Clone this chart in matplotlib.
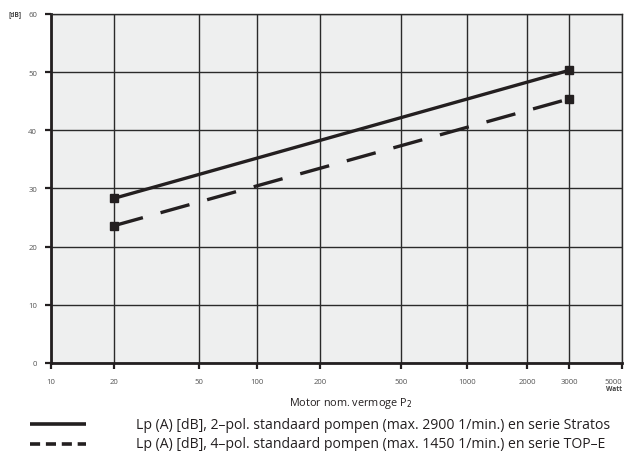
import numpy as np
import matplotlib.pyplot as plt
from matplotlib.lines import Line2D

# ---- data ----
power_w = [20, 3000]
lp_2pol = [28.3, 50.3]
lp_4pol = [23.6, 45.4]

x_ticks = [10, 20, 50, 100, 200, 500, 1000, 2000, 3000, 5000]
x_ticklabels = ["10", "20", "50", "100", "200", "500", "1000", "2000", "3000", "5000"]
y_ticks = [0, 10, 20, 30, 40, 50, 60]

label_2pol = "Lp (A) [dB], 2\u2013pol. standaard pompen (max. 2900 1/min.) en serie Stratos"
label_4pol = "Lp (A) [dB], 4\u2013pol. standaard pompen (max. 1450 1/min.) en serie TOP\u2013E"

# the printed chart is not an exact log axis; tick spacing as drawn (relative units)
tick_spacing = [0, 63, 148, 206, 269, 350, 416, 476, 518, 571]
log_ticks = np.log10(x_ticks)


def fwd(x):
    x = np.clip(np.asarray(x, dtype=float), 1e-3, None)
    return np.interp(np.log10(x), log_ticks, tick_spacing)


def inv(u):
    return 10 ** np.interp(u, tick_spacing, log_ticks)


plt.rcParams["font.family"] = ["Open Sans", "DejaVu Sans"]

fig = plt.figure(figsize=(6.24, 4.52), dpi=100)
ax = fig.add_axes([0.0817, 0.1947, 0.9153, 0.7723])
ax.set_facecolor("#eeefef")

ax.set_xscale("function", functions=(fwd, inv))
ax.set_xlim(10, 5000)
ax.set_ylim(0, 60)
ax.set_xticks(x_ticks)
ax.set_xticklabels(x_ticklabels)
ax.xaxis.set_minor_locator(plt.NullLocator())
ax.set_yticks(y_ticks)

ax.grid(True, color="#2a2a2a", linewidth=1.0)
ax.set_axisbelow(True)

ax.plot(power_w, lp_2pol, color="#231f20", linewidth=2.4,
        marker="s", markersize=6, solid_capstyle="butt")
ax.plot(power_w, lp_4pol, color="#231f20", linewidth=2.4,
        marker="s", markersize=6, dashes=(9, 5.5), dash_capstyle="butt")

for side in ["top", "right"]:
    ax.spines[side].set_linewidth(1.0)
    ax.spines[side].set_color("#2a2a2a")
for side in ["left", "bottom"]:
    ax.spines[side].set_linewidth(2.0)
    ax.spines[side].set_color("#231f20")

ax.tick_params(axis="both", direction="out", length=4, width=1.6,
               color="#231f20", labelsize=5.6, labelcolor="#555555")
ax.tick_params(axis="x", pad=7)
ax.tick_params(axis="y", pad=6)
# last tick label sits on the figure edge; keep it inside
ax.get_xticklabels()[-1].set_horizontalalignment("right")
ax.get_xticklabels()[-1].set_x(5000)

ax.text(-0.052, 1.0, "[dB]", transform=ax.transAxes, fontsize=4.8,
        fontweight="bold", color="#444444", ha="right", va="center")
ax.text(1.0, -0.072, "Watt", transform=ax.transAxes, fontsize=4.8,
        fontweight="bold", color="#444444", ha="right", va="center")

fig.text(0.5625, 0.108, "Motor nom. vermoge P$_2$", fontsize=7.8,
         color="#231f20", ha="center", va="center")

# legend drawn by hand under the chart
fig.add_artist(Line2D([0.048, 0.138], [0.059, 0.059], color="#231f20",
                      linewidth=2.6, solid_capstyle="butt"))
fig.add_artist(Line2D([0.048, 0.138], [0.016, 0.016], color="#231f20",
                      linewidth=2.6, dashes=(2.8, 1.6), dash_capstyle="butt"))
fig.text(0.218, 0.059, label_2pol, fontsize=10.1, color="#231f20", va="center")
fig.text(0.218, 0.017, label_4pol, fontsize=10.1, color="#231f20", va="center")

fig.savefig("out.png", dpi=100)
